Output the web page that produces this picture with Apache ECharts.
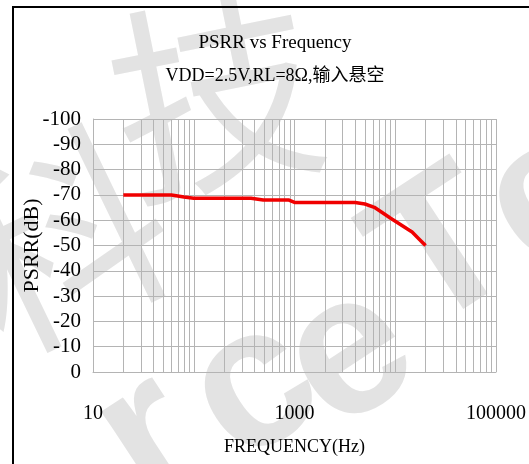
<!DOCTYPE html>
<html>
<head>
<meta charset="utf-8">
<script src="https://cdn.jsdelivr.net/npm/echarts@6/dist/echarts.min.js"></script>
<style>
html,body{margin:0;padding:0;background:#fff;}
#chart{width:529px;height:464px;}
</style>
</head>
<body>
<div id="chart"></div>
<script>
// ---- data ----
var frequencyHz = [20, 60, 80, 100, 370, 490, 870, 1000, 4000, 5000, 6200, 9000, 14700, 17200, 20000];
var psrrDb      = [-70, -70, -69.2, -68.7, -68.7, -68, -68, -67, -67, -66.4, -65.1, -60.8, -55.3, -52.6, -50];
var titleText = 'PSRR vs Frequency';
var subtitleText = 'VDD=2.5V,RL=8Ω,输入悬空';
var xAxisName = 'FREQUENCY(Hz)';
var yAxisName = 'PSRR(dB)';
var xLabelDecades = [10, 1000, 100000];
var decades = [10, 100, 1000, 10000];

// minor log grid positions (2..9 within each decade)
var minorGrid = [];
decades.forEach(function (d) { for (var k = 2; k <= 9; k++) minorGrid.push(k * d); });

var seriesData = frequencyHz.map(function (f, i) { return [f, psrrDb[i]]; });

var serif = 'Liberation Serif';
var gridColor = '#b4b4b4';
var wm = '#e3e3e3';
function wmText(ch, x, y, rot, size, family, weight) {
  return {type: 'text', z: -10, x: x, y: y, rotation: rot,
    style: {text: ch, fontFamily: family, fontSize: size, fontWeight: weight || 'normal', fill: wm, align: 'center', verticalAlign: 'middle'}};
}

var chart = echarts.init(document.getElementById('chart'), null, {renderer: 'canvas'});
chart.setOption({
  animation: false,
  backgroundColor: '#fff',
  title: {
    text: titleText,
    subtext: subtitleText,
    left: 270,
    top: 29,
    textAlign: 'center',
    itemGap: 14,
    textStyle: {fontFamily: serif, fontSize: 19, fontWeight: 'normal', color: '#000'},
    subtextStyle: {fontFamily: serif + ', "Noto Sans CJK SC"', fontSize: 18, color: '#000'}
  },
  graphic: [
    wmText('科', 60, 240, 0.45, 210, '"Noto Sans CJK SC"'),
    wmText('技', 215, 95, 0.2, 210, '"Noto Sans CJK SC"'),
    wmText('r', 150, 440, 0.58, 200, 'Liberation Sans', 'bold'),
    wmText('c', 255, 390, 0.58, 200, 'Liberation Sans', 'bold'),
    wmText('e', 350, 357, 0.58, 200, 'Liberation Sans', 'bold'),
    wmText('T', 445, 255, 0.58, 200, 'Liberation Sans', 'bold'),
    wmText('e', 550, 200, 0.58, 200, 'Liberation Sans', 'bold'),
    {type: 'rect', z: 10, shape: {x: 13, y: 7, width: 700, height: 700}, style: {fill: 'none', stroke: '#000', lineWidth: 2}}
  ],
  grid: {left: 93, right: 30, top: 119, bottom: 92},
  xAxis: {
    type: 'log',
    logBase: 10,
    min: 10,
    max: 100000,
    name: xAxisName,
    nameLocation: 'middle',
    nameGap: 66,
    nameMoveOverlap: false,
    nameTextStyle: {fontFamily: serif, fontSize: 18, color: '#000'},
    axisLine: {show: true, lineStyle: {color: gridColor, width: 1}},
    axisTick: {show: false},
    axisLabel: {
      fontFamily: serif, fontSize: 20, color: '#000', margin: 32,
      showMinLabel: true, showMaxLabel: true,
      formatter: function (v) {
        var r = Math.round(v);
        return xLabelDecades.indexOf(r) >= 0 ? String(r) : '';
      }
    },
    splitLine: {show: true, lineStyle: {color: gridColor, width: 1}},
    minorTick: {show: false},
    minorSplitLine: {show: false}
  },
  yAxis: {
    type: 'value',
    min: -100,
    max: 0,
    interval: 10,
    inverse: true,
    name: yAxisName,
    nameLocation: 'middle',
    nameRotate: 90,
    nameGap: 50,
    nameMoveOverlap: false,
    nameTextStyle: {fontFamily: serif, fontSize: 22, color: '#000'},
    axisLine: {show: true, lineStyle: {color: gridColor, width: 1}},
    axisTick: {show: false},
    axisLabel: {fontFamily: serif, fontSize: 21, color: '#000', margin: 12},
    splitLine: {show: true, lineStyle: {color: gridColor, width: 1}}
  },
  series: [
    {
      type: 'line',
      name: 'grid',
      data: [],
      silent: true,
      markLine: {
        silent: true,
        symbol: ['none', 'none'],
        label: {show: false},
        lineStyle: {color: gridColor, width: 1, type: 'solid'},
        data: minorGrid.map(function (v) { return {xAxis: v}; })
      }
    },
    {
      type: 'line',
      name: 'PSRR',
      data: seriesData,
      showSymbol: false,
      symbol: 'none',
      lineStyle: {color: '#f00000', width: 3.5},
      itemStyle: {color: '#f00000'},
      z: 5
    }
  ]
});
</script>
</body>
</html>
